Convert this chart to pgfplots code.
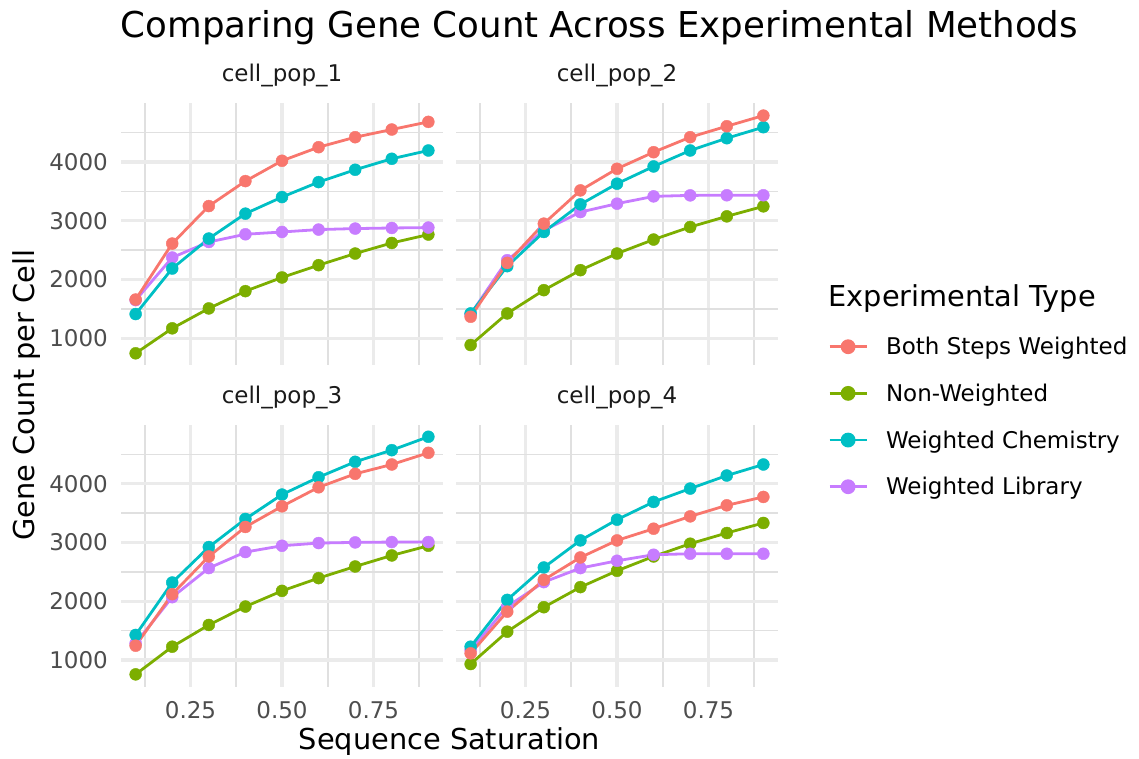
\documentclass[border=0pt]{standalone}
\usepackage{fontspec}
\setmainfont{DejaVu Sans}
\usepackage{pgfplots}
\usepackage{pgfplotstable}
\pgfplotsset{compat=1.18}

\definecolor{cBoth}{HTML}{F8766D}
\definecolor{cNon}{HTML}{7CAE00}
\definecolor{cChem}{HTML}{00BFC4}
\definecolor{cLib}{HTML}{C77CFF}
\definecolor{gridc}{HTML}{EBEBEB}
\definecolor{gridm}{HTML}{E0E0E0}
\definecolor{tickc}{HTML}{4D4D4D}
\definecolor{stripc}{HTML}{1A1A1A}

% columns: saturation, both steps weighted, non-weighted, weighted chemistry, weighted library
\pgfplotstableread{
x   both  non   chem  lib
0.1 1660  745   1413  1650
0.2 2613  1170  2188  2375
0.3 3251  1509  2698  2640
0.4 3676  1803  3122  2771
0.5 4022  2036  3404  2810
0.6 4253  2245  3659  2851
0.7 4423  2443  3869  2868
0.8 4554  2623  4056  2878
0.9 4684  2766  4197  2885
}\popA
\pgfplotstableread{
x   both  non   chem  lib
0.1 1367  886   1424  1410
0.2 2284  1424  2228  2329
0.3 2952  1820  2810  2839
0.4 3518  2160  3280  3149
0.5 3886  2443  3632  3292
0.6 4168  2681  3925  3416
0.7 4423  2895  4197  3433
0.8 4610  3076  4406  3435
0.9 4791  3246  4593  3435
}\popB
\pgfplotstableread{
x   both  non   chem  lib
0.1 1244  756   1427  1285
0.2 2121  1227  2319  2070
0.3 2763  1597  2923  2565
0.4 3265  1910  3401  2838
0.5 3616  2177  3816  2945
0.6 3940  2394  4111  2991
0.7 4169  2592  4374  3002
0.8 4328  2780  4572  3008
0.9 4527  2945  4800  3008
}\popC
\pgfplotstableread{
x   both  non   chem  lib
0.1 1114  932   1227  1171
0.2 1824  1483  2024  1910
0.3 2365  1899  2575  2326
0.4 2746  2241  3036  2565
0.5 3036  2519  3389  2689
0.6 3235  2763  3691  2792
0.7 3445  2980  3918  2809
0.8 3633  3162  4140  2809
0.9 3776  3333  4328  2809
}\popD

\pgfplotsset{
  facet/.style={
    scale only axis, width=322pt, height=261.7pt,
    anchor=north west,
    xmin=0.06, xmax=0.94, ymin=546, ymax=5000,
    axis line style={draw=none},
    tick style={draw=none},
    major tick length=0pt, minor tick length=0pt,
    xtick={0.25,0.5,0.75}, minor xtick={0.125,0.375,0.625,0.875},
    ytick={1000,2000,3000,4000}, minor ytick={1500,2500,3500,4500},
    xticklabels={}, yticklabels={},
    grid=both,
    major grid style={draw=gridc, line width=3.2pt},
    minor grid style={draw=gridm, line width=1.6pt},
    /pgf/number format/assume math mode=true,
    tick label style={font=\fontsize{23}{27}\selectfont, text=tickc},
    xticklabel style={anchor=north, inner sep=0pt, yshift=-15pt},
    yticklabel style={anchor=east, inner sep=0pt, xshift=-13pt},
    title style={at={(0.5,1)}, anchor=south, inner sep=0pt, yshift=10pt,
                 font=\fontsize{23}{27}\selectfont, text=stripc},
    clip=false,
  },
  xlab/.style={xticklabels={0.25,0.50,0.75}},
  ylab/.style={yticklabels={1000,2000,3000,4000}},
  ln/.style={no markers, line width=2.8pt, forget plot},
  pt/.style={only marks, mark=*, mark size=6pt, forget plot},
  legkey/.style={line width=2.8pt, mark=*, mark size=6pt},
}

% one facet: lines first, then points on top
\newcommand\facetplots[1]{%
  \addplot[ln, cNon]  table[x=x, y=non]  {#1};
  \addplot[ln, cLib]  table[x=x, y=lib]  {#1};
  \addplot[ln, cChem] table[x=x, y=chem] {#1};
  \addplot[ln, cBoth] table[x=x, y=both] {#1};
  \addplot[pt, cNon]  table[x=x, y=non]  {#1};
  \addplot[pt, cLib]  table[x=x, y=lib]  {#1};
  \addplot[pt, cChem] table[x=x, y=chem] {#1};
  \addplot[pt, cBoth] table[x=x, y=both] {#1};
}

\begin{document}
\begin{tikzpicture}
\useasboundingbox (0pt,0pt) rectangle (1139pt,-758pt);

\node[anchor=base, font=\fontsize{35.6}{41}\selectfont] at (599.5pt,-37pt)
  {Comparing Gene Count Across Experimental Methods};

\begin{axis}[facet, ylab, at={(121pt,-103.3pt)}, title={cell\_pop\_1}]
  \facetplots{\popA}
\end{axis}

\begin{axis}[facet, at={(456pt,-103.3pt)}, title={cell\_pop\_2},
  legend style={at={(1.1553,-0.1976)}, anchor=west, draw=none, fill=none,
    inner sep=0pt, row sep=27.7pt, column sep=18pt,
    font=\fontsize{23}{27}\selectfont, nodes={inner sep=0pt}},
  legend cell align=left,
  legend image code/.code={\draw[mark repeat=2, mark phase=2, #1]
    plot coordinates {(0pt,0pt)(18.5pt,0pt)(37pt,0pt)};}]
  \facetplots{\popB}
  \addlegendimage{legkey, cBoth}\addlegendentry{Both Steps Weighted}
  \addlegendimage{legkey, cNon}\addlegendentry{Non-Weighted}
  \addlegendimage{legkey, cChem}\addlegendentry{Weighted Chemistry}
  \addlegendimage{legkey, cLib}\addlegendentry{Weighted Library}
\end{axis}

\begin{axis}[facet, xlab, ylab, at={(121pt,-425pt)}, title={cell\_pop\_3}]
  \facetplots{\popC}
\end{axis}

\begin{axis}[facet, xlab, at={(456pt,-425pt)}, title={cell\_pop\_4}]
  \facetplots{\popD}
\end{axis}

\node[anchor=base west, font=\fontsize{28.8}{34}\selectfont] at (825pt,-306pt)
  {Experimental Type};
\node[anchor=base, font=\fontsize{28.8}{34}\selectfont] at (449.5pt,-749pt)
  {Sequence Saturation};
\node[anchor=base, rotate=90, font=\fontsize{28.8}{34}\selectfont] at (34pt,-395pt)
  {Gene Count per Cell};
\end{tikzpicture}
\end{document}
